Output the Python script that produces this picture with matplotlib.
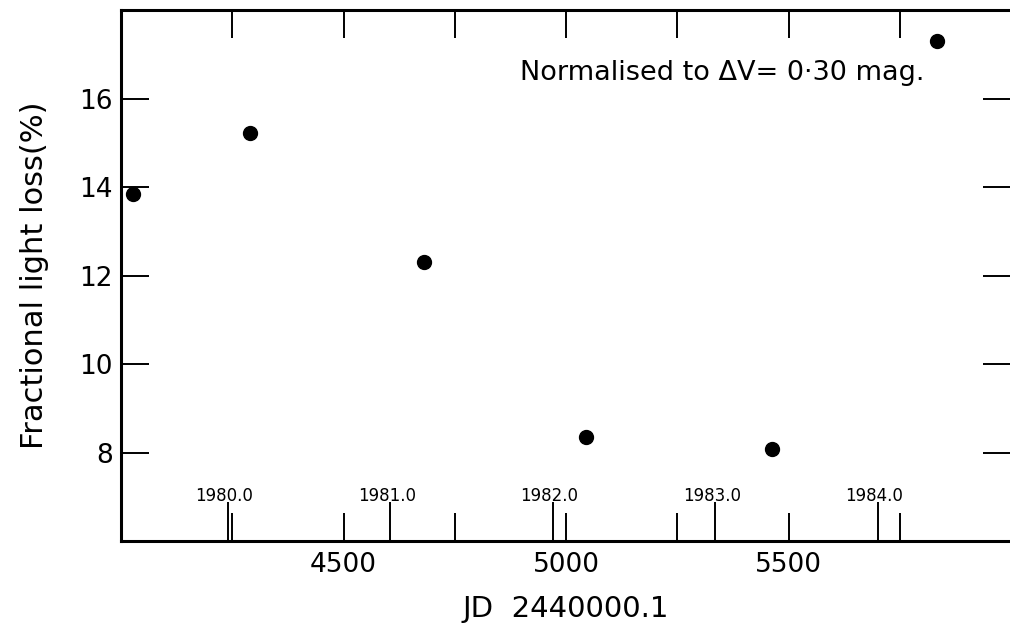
import matplotlib
matplotlib.use('Agg')
import matplotlib.pyplot as plt
from matplotlib.ticker import FixedLocator, FuncFormatter

# data
jd = [4027, 4289, 4682, 5045, 5464, 5834]
light_loss = [13.85, 15.21, 12.31, 8.36, 8.07, 17.30]

jd_ticks = [4250, 4500, 4750, 5000, 5250, 5500, 5750]
jd_labelled = [4500, 5000, 5500]
y_ticks = [8, 10, 12, 14, 16]

year_labels = ["1980.0", "1981.0", "1982.0", "1983.0", "1984.0"]
year_jd = [4239.5, 4605.5, 4970.5, 5335.5, 5700.5]

plt.rcParams['font.family'] = 'DejaVu Sans'

fig = plt.figure(figsize=(10.10, 6.37), dpi=100)
ax = fig.add_axes([0.1198, 0.1507, 0.8812, 0.8336])

ax.plot(jd, light_loss, 'o', color='black', markersize=10)

ax.set_xlim(4000, 6000)
ax.set_ylim(6, 18)

ax.xaxis.set_major_locator(FixedLocator(jd_ticks))
ax.xaxis.set_major_formatter(FuncFormatter(lambda v, p: f"{int(v)}" if int(v) in jd_labelled else ""))
ax.xaxis.set_minor_locator(FixedLocator(year_jd))
ax.set_yticks(y_ticks)

ax.tick_params(axis='x', which='major', direction='in', length=20, width=1.4,
               top=True, bottom=True, labelsize=19, pad=8)
ax.tick_params(axis='x', which='minor', direction='in', length=28, width=1.4,
               top=False, bottom=True)
ax.tick_params(axis='y', which='major', direction='in', length=20, width=1.4,
               left=True, right=True, labelsize=19, pad=6)

for s in ax.spines.values():
    s.set_linewidth(2.2)
ax.spines['right'].set_visible(False)

for lab, x in zip(year_labels, year_jd):
    ax.text(x - 8, 0.085, lab, transform=ax.get_xaxis_transform(),
            ha='center', va='center', fontsize=12)

ax.text(0.448, 0.882, "Normalised to \u0394V= 0\u00b730 mag.", transform=ax.transAxes,
        fontsize=19.5, ha='left', va='center')

ax.set_ylabel("Fractional light loss(%)", fontsize=22, labelpad=22)
ax.set_xlabel("JD  2440000.1", fontsize=21, labelpad=12)

fig.savefig("out.png", dpi=100)
